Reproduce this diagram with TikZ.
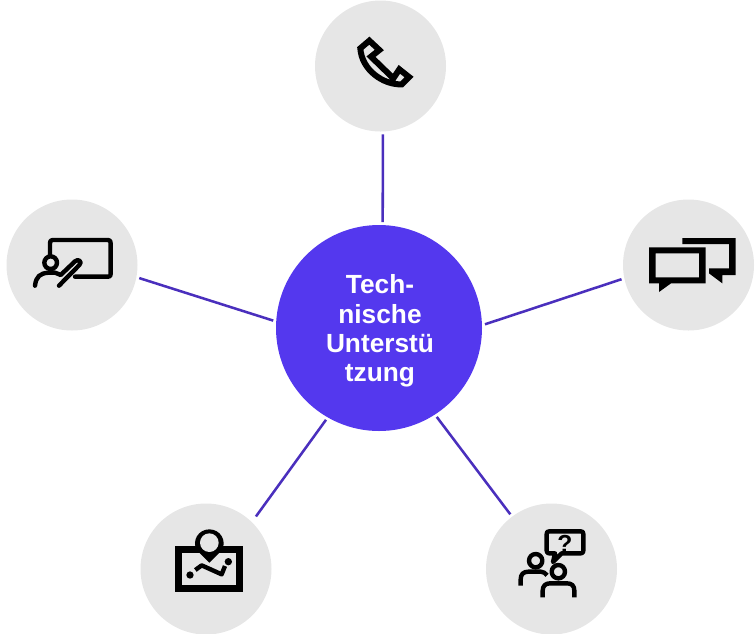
\documentclass[tikz,border=0pt]{standalone}
\usepackage{fontspec}
\setmainfont{Liberation Sans}
\definecolor{hubcol}{HTML}{5438EE}
\definecolor{linkcol}{HTML}{4A2FBD}
\definecolor{disc}{HTML}{E6E6E6}
\tikzset{
  hubnode/.style={circle,fill=hubcol,minimum size=154.5pt,inner sep=0pt,outer sep=2.25pt},
  hubtext/.style={text=white,align=center,inner sep=0pt,font=\bfseries\fontsize{19.7}{21.9}\selectfont},
  discnode/.style={circle,fill=disc,minimum size=98.25pt,inner sep=0pt,outer sep=2.25pt},
  link/.style={draw=linkcol,line width=1.9pt},
  icon/.style={x=0.25pt,y=-0.25pt},
  ink/.style={draw=black,line width=3.3pt,line join=round,line cap=round},
  inkb/.style={draw=black,line width=4.5pt,line join=miter}
}
\begin{document}
\begin{tikzpicture}[x=0.75pt,y=-0.75pt]
\clip (0,0) rectangle (756,633);
\node[hubnode] (hub) at (379,328) {};
\node[hubtext] (hubtitle) at (380,331) {Tech-\\nische\\Unterstü\\tzung};
\node[discnode] (top) at (380.5,66) {};
\node[discnode] (left) at (72,265) {};
\node[discnode] (right) at (688.5,265) {};
\node[discnode] (bl) at (206,569) {};
\node[discnode] (br) at (551.5,569) {};
\draw[link] (hub.88.4) -- (top.272);
\draw[link] (hub.176.2) -- (left.349.8);
\draw[link] (hub.2.1) -- (right.192.8);
\draw[link,shorten >=3pt] (hub.240.5) -- (bl.46);
\draw[link] (hub.303.8) -- (br.127.9);
% phone
\begin{scope}[shift={(340,20)},icon]
\draw[inkb] (61,85) -- (88,62) -- (118,90) -- (93,110) -- (160,175) -- (178,148) -- (207,171) -- (185,193) .. controls (130,195) and (65,150) .. (61,85) -- cycle;
\end{scope}
% presenter
\begin{scope}[shift={(20,220)},icon]
\draw[ink] (90,104) -- (90,70) .. controls (90,63) and (92,60) .. (98,60) -- (264,60) .. controls (270,60) and (272,63) .. (272,70) -- (272,162) .. controls (272,168) and (270,170) .. (264,170) -- (165,170);
\draw[ink] (92,128) circle[radius=19];
\draw[ink] (45,197) .. controls (48,170) and (60,160) .. (85,158) -- (105,158) .. controls (115,160) and (118,165) .. (122,165) -- (165,124) .. controls (175,115) and (188,125) .. (178,135) -- (117,197);
\end{scope}
% chat bubbles
\begin{scope}[shift={(635,220)},icon]
\fill[black,even odd rule] (42,82) -- (212,82) -- (212,190) -- (108,190) -- (72,216) -- (72,190) -- (42,190) -- cycle (62,100) rectangle (192,172);
\fill[black] (142,54) -- (302,54) -- (302,165) -- (262,165) -- (262,190) -- (222,160) -- (222,145) -- (282,145) -- (282,72) -- (142,72) -- cycle;
\end{scope}
% map
\begin{scope}[shift={(160,520)},icon]
\draw[inkb,line width=5pt] (56,88) rectangle (238,206);
\fill[black] (148,128) -- (110,90) .. controls (95,62) and (115,28) .. (148,28) .. controls (181,28) and (201,62) .. (186,90) -- cycle;
\fill[disc] (148,68) circle[radius=28];
\fill[black] (90,165) circle[radius=11] (205,125) circle[radius=11];
\draw[draw=black,line width=3.3pt,line join=round] (106,150) -- (125,136) -- (185,163) -- (195,138);
\end{scope}
% question
\begin{scope}[shift={(505,520)},icon]
\draw[ink] (133,34) -- (227,34) .. controls (233,34) and (235,36) .. (235,42) -- (235,92) .. controls (235,98) and (233,100) .. (227,100) -- (170,100) -- (144,126) -- (150,100) -- (133,100) .. controls (127,100) and (125,98) .. (125,92) -- (125,42) .. controls (125,36) and (127,34) .. (133,34) -- cycle;
\node[font=\bfseries\fontsize{18.5}{20}\selectfont,inner sep=0pt] (qmark) at (180,72) {?};
\draw[ink] (92,122) circle[radius=20];
\draw[ink,line cap=butt] (47,197) -- (47,178) .. controls (47,163) and (55,155) .. (70,155) -- (108,155) .. controls (115,155) and (122,160) .. (126,166);
\draw[ink] (160,155) circle[radius=20];
\draw[ink,line cap=butt] (113,232) -- (113,212) .. controls (113,197) and (122,190) .. (135,190) -- (186,190) .. controls (200,190) and (208,197) .. (208,212) -- (208,232);
\end{scope}
\end{tikzpicture}
\end{document}
